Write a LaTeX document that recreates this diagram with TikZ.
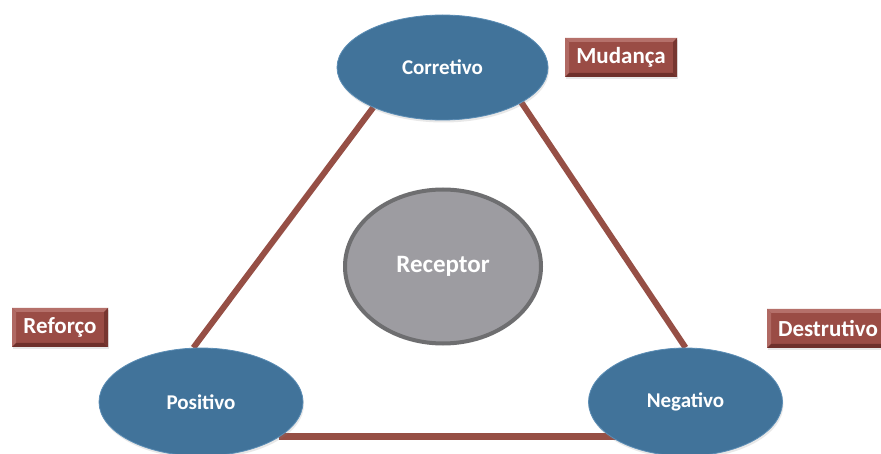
\documentclass[tikz,border=0pt]{standalone}
\usepackage{fontspec}
\setmainfont{Carlito}
\usetikzlibrary{backgrounds,shapes.geometric,shadows}
\definecolor{nodeblue}{HTML}{41739A}
\definecolor{nodeblueedge}{HTML}{5B8DB5}
\definecolor{recgray}{HTML}{9D9CA1}
\definecolor{recedge}{HTML}{6E6E70}
\definecolor{linkred}{HTML}{964F45}
\definecolor{boxred}{HTML}{9A4C45}
\definecolor{boxlight}{HTML}{B5706A}
\definecolor{boxdark}{HTML}{6E302B}
\tikzset{
  softshadow/.style={drop shadow={opacity=0.18, shadow xshift=1pt, shadow yshift=-2.5pt}},
  bluenode/.style={ellipse, fill=nodeblue, draw=nodeblueedge, line width=0.8pt, softshadow,
    text=white, font=\bfseries\fontsize{21}{21}\selectfont, inner sep=0pt},
  recnode/.style={ellipse, fill=recgray, draw=recedge, line width=4pt,
    text=white, font=\bfseries\fontsize{25}{25}\selectfont, inner sep=0pt,
    minimum width=196pt, minimum height=154pt},
  link/.style={draw=linkred, line width=6pt},
  tag/.style={rectangle, fill=boxred, text=white, inner sep=0pt, softshadow,
    font=\bfseries\fontsize{23}{23}\selectfont, minimum height=39pt,
    path picture={
      \fill[boxlight] (path picture bounding box.north west) -- (path picture bounding box.north east)
        -- ([shift={(-4pt,-4pt)}]path picture bounding box.north east) -- ([shift={(4pt,-4pt)}]path picture bounding box.north west) -- cycle;
      \fill[boxlight!80!boxred] (path picture bounding box.north west) -- (path picture bounding box.south west)
        -- ([shift={(4pt,4pt)}]path picture bounding box.south west) -- ([shift={(4pt,-4pt)}]path picture bounding box.north west) -- cycle;
      \fill[boxdark] (path picture bounding box.south west) -- (path picture bounding box.south east)
        -- ([shift={(-4pt,4pt)}]path picture bounding box.south east) -- ([shift={(4pt,4pt)}]path picture bounding box.south west) -- cycle;
      \fill[boxdark!80!boxred] (path picture bounding box.north east) -- (path picture bounding box.south east)
        -- ([shift={(-4pt,4pt)}]path picture bounding box.south east) -- ([shift={(-4pt,-4pt)}]path picture bounding box.north east) -- cycle;
    }}
}
\begin{document}
\begin{tikzpicture}[x=1pt, y=-1pt]
\useasboundingbox (0,0) rectangle (881,454);

\node[bluenode, minimum width=211pt, minimum height=105pt] (cor) at (442.5,67.5) {Corretivo};
\node[bluenode, minimum width=204pt, minimum height=108pt] (pos) at (201,402) {Positivo};
\node[bluenode, minimum width=194pt, minimum height=108pt] (neg) at (685.5,402) {Negativo};
\node[recnode] (rec) at (443,266.5) {Receptor};

\node[tag, minimum width=112pt] (mud) at (621,57.5) {Mudança};
\node[tag, minimum width=96pt] (ref) at (60,327.5) {Reforço};
\node[tag, minimum width=122pt] (des) at (828,328.5) {Destrutivo};

\begin{scope}[on background layer]
  \fill[white] (0,0) rectangle (881,454);
  \draw[link] (cor.210) -- (pos.98);
  \draw[link] (cor.336) -- (neg.90);
  \draw[link, line width=7pt] (pos.336.7) -- (pos.336.7 -| neg);
\end{scope}
\end{tikzpicture}
\end{document}
